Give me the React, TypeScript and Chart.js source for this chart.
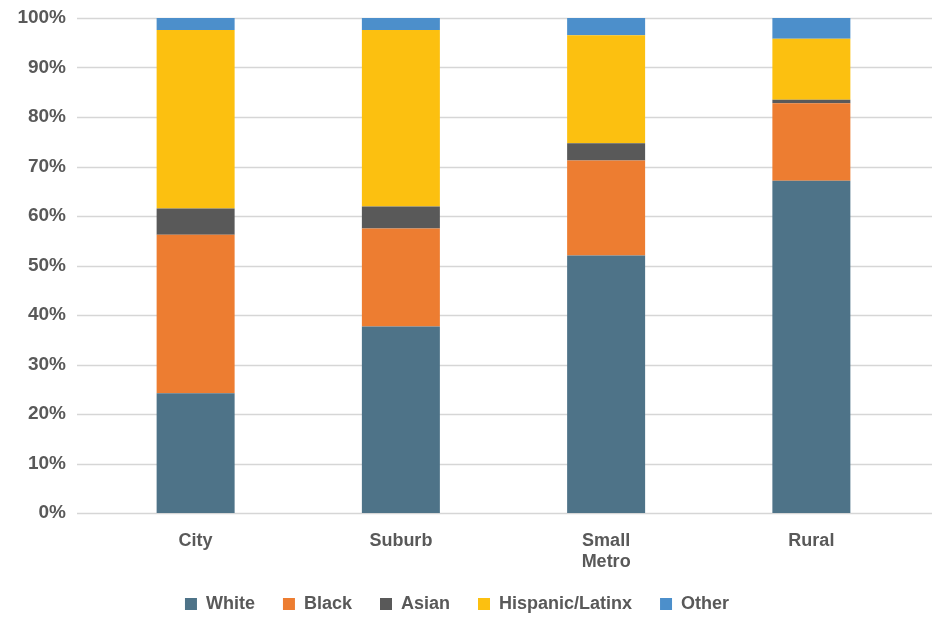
import React, { useEffect, useRef } from "react";
import { Chart, registerables } from "chart.js";

Chart.register(...registerables);

const categories: (string | string[])[] = ["City", "Suburb", ["Small", "Metro"], "Rural"];
const white = [24.2, 37.7, 52.0, 67.1];
const black = [32.0, 19.8, 19.2, 15.7];
const asian = [5.3, 4.4, 3.5, 0.7];
const hispanic = [36.1, 35.7, 21.8, 12.3];
const other = [2.4, 2.4, 3.5, 4.2];
const yTicks = [0, 10, 20, 30, 40, 50, 60, 70, 80, 90, 100];

const FONT = "'Liberation Sans', Arial, Helvetica, sans-serif";
const TEXT = "#595959";

const gridPlugin = {
  id: "extGrid",
  beforeDatasetsDraw(chart: any) {
    const ctx = chart.ctx;
    const y = chart.scales.y;
    ctx.save();
    ctx.strokeStyle = "#d6d6d6";
    ctx.lineWidth = 1.5;
    yTicks.forEach((t) => {
      const py = Math.round(y.getPixelForValue(t)) + 0.5;
      ctx.beginPath();
      ctx.moveTo(77, py);
      ctx.lineTo(932, py);
      ctx.stroke();
    });
    ctx.restore();
  },
};

export default function App() {
  const ref = useRef<HTMLCanvasElement>(null);
  useEffect(() => {
    document.body.style.margin = "0";
    const mk = (label: string, data: number[], color: string) => ({
      label,
      data,
      backgroundColor: color,
      borderWidth: 0,
      barPercentage: 1,
      categoryPercentage: 0.38,
    });
    const chart = new Chart(ref.current!, {
      type: "bar",
      data: {
        labels: categories as any,
        datasets: [
          mk("White", white, "#4e7388"),
          mk("Black", black, "#ed7d31"),
          mk("Asian", asian, "#595959"),
          mk("Hispanic/Latinx", hispanic, "#fcc010"),
          mk("Other", other, "#4c8fcb"),
        ],
      },
      options: {
        animation: false,
        responsive: false,
        maintainAspectRatio: false,
        layout: { padding: { top: 18, right: 18, left: 0, bottom: -6 } },
        plugins: {
          tooltip: { enabled: false },
          legend: {
            position: "bottom",
            labels: {
              color: TEXT,
              font: { family: FONT, size: 18, weight: "bold" },
              boxWidth: 12,
              boxHeight: 12,
              padding: 28,
            },
          },
        },
        scales: {
          x: {
            stacked: true,
            clip: false,
            afterFit: (s: any) => {
              s.height = 54;
            },
            grid: { display: false, drawTicks: false },
            border: { display: false },
            ticks: {
              color: TEXT,
              font: { family: FONT, size: 18, weight: "bold" },
              padding: 17,
              maxRotation: 0,
            },
          },
          y: {
            stacked: true,
            min: 0,
            max: 100,
            afterFit: (s: any) => {
              s.width = 93;
              s.paddingTop = 0;
              s.paddingBottom = 0;
            },
            afterBuildTicks: (s: any) => {
              s.ticks = yTicks.map((v) => ({ value: v }));
            },
            grid: { display: false, drawTicks: false },
            border: { display: false },
            ticks: {
              color: TEXT,
              font: { family: FONT, size: 19, weight: "bold" },
              padding: 27,
              callback: (v: any) => v + "%",
            },
          },
        },
      },
      plugins: [gridPlugin],
    });
    return () => chart.destroy();
  }, []);
  return <canvas ref={ref} width={932} height={617} style={{ display: "block" }} />;
}
